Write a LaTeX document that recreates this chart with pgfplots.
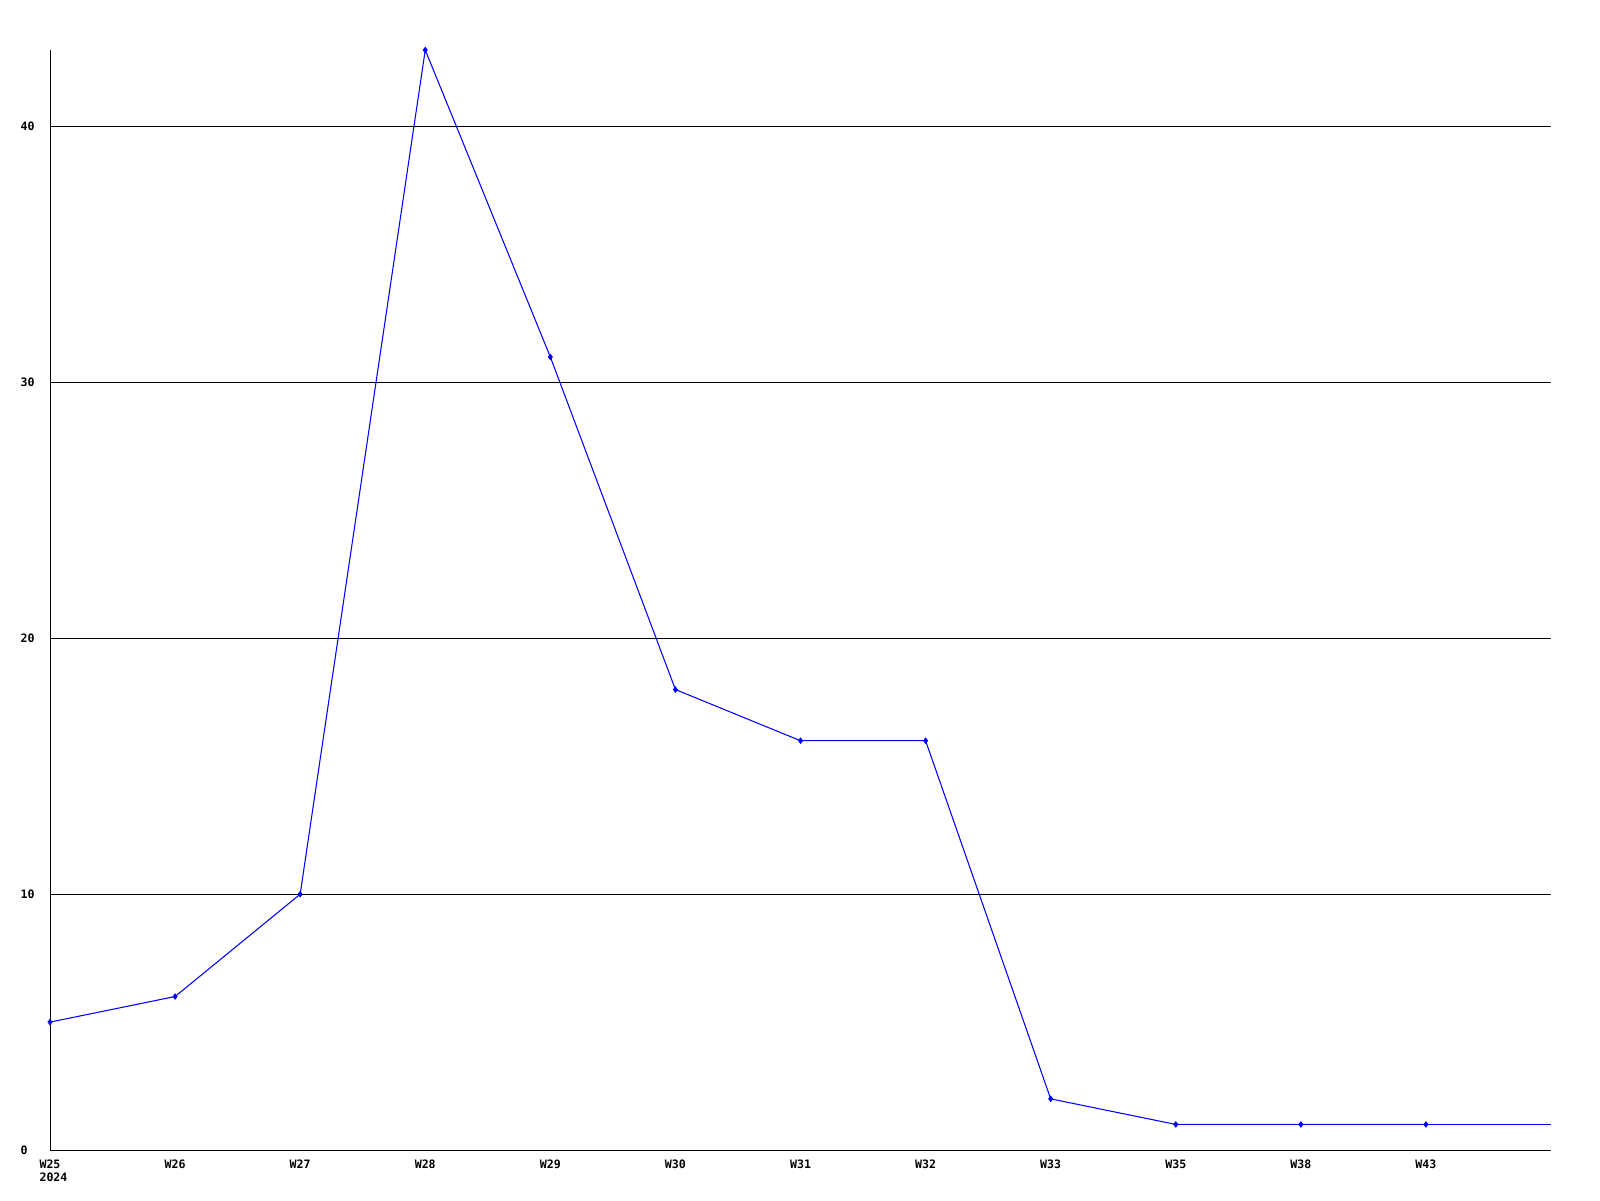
\documentclass[border=0pt]{standalone}
\usepackage{pgfplots}
\pgfplotsset{compat=1.18}
\usepackage{fontspec}
\setmonofont{DejaVu Sans Mono}
\begin{document}
\begin{tikzpicture}
\useasboundingbox[fill=white] (0,0) rectangle (16cm,12cm);
\begin{axis}[
  at={(0.5cm,0.5cm)}, anchor=south west,
  scale only axis, width=15.01cm, height=11cm,
  xmin=0, xmax=12, ymin=0, ymax=43,
  axis lines=left, axis line style={-, black, line width=0.28pt},
  xtick={0,1,2,3,4,5,6,7,8,9,10,11},
  xticklabels={{\rlap{\raisebox{-1.35mm}{2024}}W25},W26,W27,W28,W29,W30,W31,W32,W33,W35,W38,W43},
  ytick={0,10,20,30,40},
  /pgf/number format/assume math mode=true,
  ymajorgrids, grid style={black, line width=0.28pt},
  major tick length=0,
  tick label style={font=\ttfamily\bfseries\fontsize{3.3}{3.6}\selectfont, inner sep=0pt},
  xticklabel style={anchor=north, yshift=-0.9mm},
  yticklabel style={anchor=west, xshift=-3mm},
  clip=false,
]
\addplot[color={rgb,255:red,0;green,0;blue,255}, line width=0.3pt, mark=diamond*, mark size=0.25mm, mark options={solid}]
  coordinates {(0,5) (1,6) (2,10) (3,43) (4,31) (5,18) (6,16) (7,16) (8,2) (9,1) (10,1) (11,1)};
\addplot[color={rgb,255:red,0;green,0;blue,255}, line width=0.3pt, no marks]
  coordinates {(11,1) (12,1)};
\end{axis}
\end{tikzpicture}
\end{document}
